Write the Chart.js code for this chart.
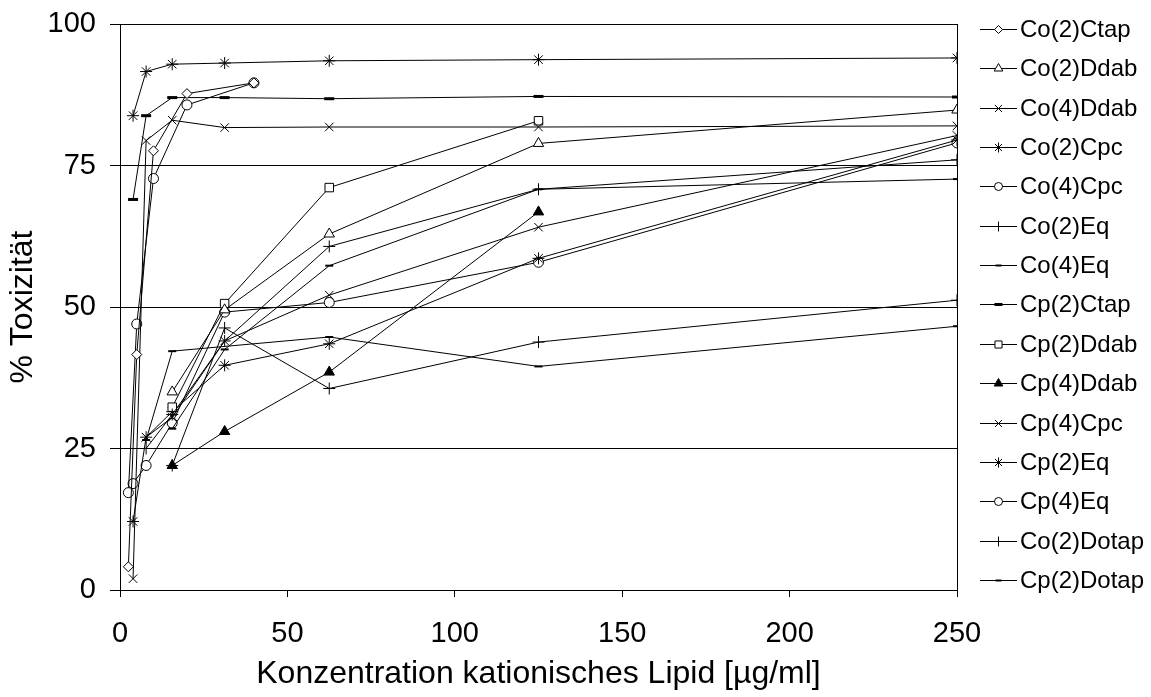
<!DOCTYPE html>
<html>
<head>
<meta charset="utf-8">
<script src="https://cdn.jsdelivr.net/npm/chart.js@4.4.1/dist/chart.umd.min.js"></script>
<style>
  html, body { margin: 0; padding: 0; background: #fff; }
  #wrap { width: 1151px; height: 697px; }
</style>
</head>
<body>
<div id="wrap"><canvas id="chart" width="1151" height="697"></canvas></div>
<script>
// values, % toxicity vs. lipid concentration
const co2CtapX = [2.5, 5, 10, 20, 40];
const co2CtapY = [4.1, 41.6, 77.6, 87.7, 89.6];
const co2DdabX = [15.6, 31.25, 62.5, 125, 250];
const co2DdabY = [35, 49.5, 62.9, 78.9, 84.8];
const co4DdabX = [3.9, 7.8, 15.6, 31.25, 62.5, 125, 250];
const co4DdabY = [2, 79.4, 83, 81.7, 81.8, 81.8, 82];
const co2CpcX = [3.9, 7.8, 15.6, 31.25, 62.5, 125, 250];
const co2CpcY = [83.8, 91.6, 92.9, 93.1, 93.5, 93.7, 94];
const co4CpcX = [2.5, 5, 10, 20, 40];
const co4CpcY = [17.2, 47, 72.7, 85.7, 89.6];
const co2EqX = [7.8, 15.6, 31.25, 62.5, 125, 250];
const co2EqY = [25, 31, 44, 60.7, 70.8, 76];
const co4EqX = [15.6, 31.25, 62.5, 125, 250];
const co4EqY = [28.5, 42.5, 57.3, 70.8, 72.6];
const cp2CtapX = [3.9, 7.8, 15.6, 31.25, 62.5, 125, 250];
const cp2CtapY = [69, 83.8, 87, 87, 86.8, 87.2, 87.1];
const cp2DdabX = [15.6, 31.25, 62.5, 125];
const cp2DdabY = [32.3, 50.6, 71.1, 82.9];
const cp4DdabX = [15.6, 31.25, 62.5, 125];
const cp4DdabY = [22, 28, 38.5, 66.8];
const cp4CpcX = [7.8, 15.6, 31.25, 62.5, 125, 250];
const cp4CpcY = [27, 30.5, 44, 52.1, 64.1, 80.3];
const cp2EqX = [3.9, 7.8, 15.6, 31.25, 62.5, 125, 250];
const cp2EqY = [12.1, 27, 31.5, 39.7, 43.5, 58.6, 79.5];
const cp4EqX = [3.9, 7.8, 15.6, 31.25, 62.5, 125, 250];
const cp4EqY = [18.8, 22, 29.5, 49.1, 50.8, 57.9, 79];
const co2DotapX = [15.6, 31.25, 62.5, 125, 250];
const co2DotapY = [22, 46.3, 35.6, 43.8, 51.2];
const cp2DotapX = [7.8, 15.6, 62.5, 125, 250];
const cp2DotapY = [26.5, 42.2, 44.7, 39.5, 46.6];

const xTicks = [0, 50, 100, 150, 200, 250];
const yTicks = [0, 25, 50, 75, 100];

const FONT = "'Liberation Sans', Arial, sans-serif";

function pts(xs, ys) {
  return xs.map((x, i) => ({ x: x, y: ys[i] }));
}

// label, data, marker style, radius, filled, marker border width
const series = [
  ['Co(2)Ctap', pts(co2CtapX, co2CtapY), 'rectRot', 5, false, 1],
  ['Co(2)Ddab', pts(co2DdabX, co2DdabY), 'triangle', 6, false, 1],
  ['Co(4)Ddab', pts(co4DdabX, co4DdabY), 'crossRot', 6, false, 1],
  ['Co(2)Cpc', pts(co2CpcX, co2CpcY), 'star', 6, false, 1],
  ['Co(4)Cpc', pts(co4CpcX, co4CpcY), 'circle', 5, false, 1],
  ['Co(2)Eq', pts(co2EqX, co2EqY), 'cross', 6, false, 1],
  ['Co(4)Eq', pts(co4EqX, co4EqY), 'line', 4, false, 2],
  ['Cp(2)Ctap', pts(cp2CtapX, cp2CtapY), 'line', 5, false, 3],
  ['Cp(2)Ddab', pts(cp2DdabX, cp2DdabY), 'rect', 6, false, 1],
  ['Cp(4)Ddab', pts(cp4DdabX, cp4DdabY), 'triangle', 6, true, 1],
  ['Cp(4)Cpc', pts(cp4CpcX, cp4CpcY), 'crossRot', 6, false, 1],
  ['Cp(2)Eq', pts(cp2EqX, cp2EqY), 'star', 6, false, 1],
  ['Cp(4)Eq', pts(cp4EqX, cp4EqY), 'circle', 5, false, 1],
  ['Co(2)Dotap', pts(co2DotapX, co2DotapY), 'cross', 6, false, 1],
  ['Cp(2)Dotap', pts(cp2DotapX, cp2DotapY), 'line', 4, false, 2]
];

const datasets = series.map(s => ({
  label: s[0],
  data: s[1],
  borderColor: '#000',
  borderWidth: 1,
  pointStyle: s[2],
  pointRadius: s[3],
  pointBackgroundColor: s[4] ? '#000' : '#fff',
  pointBorderColor: '#000',
  pointBorderWidth: s[5],
  tension: 0,
  fill: false
}));

// box round the plot area
const frame = {
  id: 'frame',
  beforeDatasetsDraw(chart) {
    const a = chart.chartArea, ctx = chart.ctx;
    ctx.save();
    ctx.strokeStyle = '#000';
    ctx.lineWidth = 1;
    ctx.strokeRect(Math.round(a.left) + 0.5, Math.round(a.top) + 0.5,
      Math.round(a.right - a.left), Math.round(a.bottom - a.top));
    ctx.restore();
  }
};

// legend with a short line and the marker, like the original
const sideLegend = {
  id: 'sideLegend',
  afterDraw(chart) {
    const ctx = chart.ctx;
    ctx.save();
    chart.data.datasets.forEach((ds, i) => {
      const y = Math.round(29 + i * 39.35) + 0.5;
      ctx.strokeStyle = '#000';
      ctx.lineWidth = 1;
      ctx.beginPath();
      ctx.moveTo(980, y);
      ctx.lineTo(1017, y);
      ctx.stroke();
      ctx.fillStyle = ds.pointBackgroundColor;
      ctx.strokeStyle = '#000';
      ctx.lineWidth = ds.pointBorderWidth;
      Chart.helpers.drawPoint(ctx, {
        pointStyle: ds.pointStyle,
        radius: Math.max(3, ds.pointRadius - 1),
        rotation: 0,
        borderWidth: ds.pointBorderWidth
      }, 998.5, y);
      ctx.fillStyle = '#000';
      ctx.font = '24px ' + FONT;
      ctx.textBaseline = 'middle';
      ctx.textAlign = 'left';
      ctx.fillText(ds.label, 1020, y + 1);
    });
    ctx.restore();
  }
};

new Chart(document.getElementById('chart').getContext('2d'), {
  type: 'line',
  data: { datasets: datasets },
  plugins: [frame, sideLegend],
  options: {
    responsive: false,
    animation: false,
    devicePixelRatio: 1,
    layout: { padding: { left: 0, right: 194, top: 24, bottom: 2 } },
    plugins: {
      legend: { display: false },
      tooltip: { enabled: false }
    },
    scales: {
      x: {
        type: 'linear',
        min: 0,
        max: 250,
        afterBuildTicks(scale) { scale.ticks = xTicks.map(v => ({ value: v })); },
        ticks: { color: '#000', font: { size: 29, family: FONT }, padding: 20, maxRotation: 0 },
        grid: { drawOnChartArea: false, color: '#000', tickLength: 7 },
        border: { color: '#000' },
        title: {
          display: true,
          text: 'Konzentration kationisches Lipid [µg/ml]',
          color: '#000',
          font: { size: 32, family: FONT },
          padding: { top: 2, bottom: 2 }
        },
        afterFit(scale) {
          scale.height = 105;
          scale.paddingLeft = 0;
          scale.paddingRight = 0;
        }
      },
      y: {
        min: 0,
        max: 100,
        afterBuildTicks(scale) { scale.ticks = yTicks.map(v => ({ value: v })); },
        ticks: { color: '#000', font: { size: 29, family: FONT }, padding: 14 },
        grid: { color: '#000', tickLength: 10 },
        border: { color: '#000' },
        title: {
          display: true,
          text: '% Toxizität',
          color: '#000',
          font: { size: 32, family: FONT },
          padding: { top: 4, bottom: 0 }
        },
        afterFit(scale) {
          scale.width = 120;
          scale.paddingTop = 0;
          scale.paddingBottom = 0;
        }
      }
    }
  }
});
</script>
</body>
</html>
